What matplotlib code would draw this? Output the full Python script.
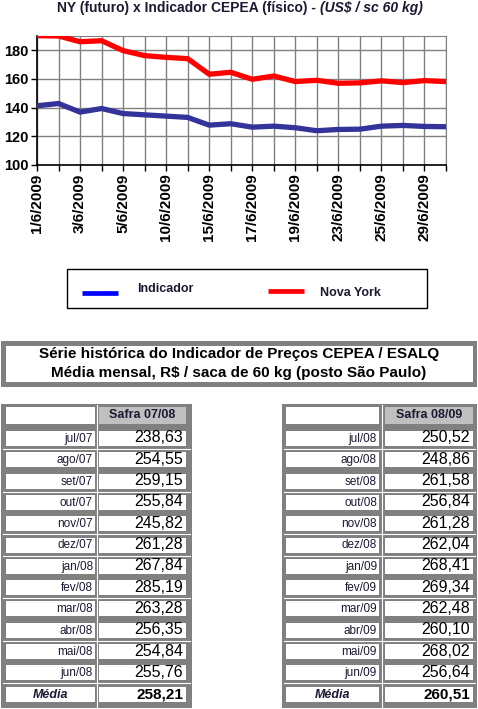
import matplotlib
matplotlib.use("Agg")
import matplotlib.pyplot as plt
from matplotlib.patches import Rectangle

plt.rcParams['font.family'] = ['Liberation Sans', 'DejaVu Sans']

# daily prices, june 2009 (US$ / sc 60 kg)
DATES = ['1/6/2009', '2/6/2009', '3/6/2009', '4/6/2009', '5/6/2009',
         '9/6/2009', '10/6/2009', '12/6/2009', '15/6/2009', '16/6/2009',
         '17/6/2009', '18/6/2009', '19/6/2009', '22/6/2009', '23/6/2009',
         '24/6/2009', '25/6/2009', '26/6/2009', '29/6/2009', '30/6/2009']
INDICADOR = [141.3, 142.9, 136.9, 139.4, 135.9, 135.0, 134.1, 133.2, 127.8, 128.8,
             126.4, 127.1, 126.0, 123.9, 124.8, 125.0, 127.1, 127.6, 126.9, 126.7]
NOVA_YORK = [190.2, 190.0, 186.0, 186.7, 179.8, 176.3, 175.1, 174.2, 163.3, 164.7,
             159.8, 162.1, 158.2, 159.1, 157.0, 157.3, 158.7, 157.5, 158.9, 158.2]

# monthly averages (R$ / saca 60 kg)
MONTHS_0708 = ['jul/07', 'ago/07', 'set/07', 'out/07', 'nov/07', 'dez/07',
               'jan/08', 'fev/08', 'mar/08', 'abr/08', 'mai/08', 'jun/08']
VALUES_0708 = ['238,63', '254,55', '259,15', '255,84', '245,82', '261,28',
               '267,84', '285,19', '263,28', '256,35', '254,84', '255,76']
MEDIA_0708 = '258,21'

MONTHS_0809 = ['jul/08', 'ago/08', 'set/08', 'out/08', 'nov/08', 'dez/08',
               'jan/09', 'fev/09', 'mar/09', 'abr/09', 'mai/09', 'jun/09']
VALUES_0809 = ['250,52', '248,86', '261,58', '256,84', '261,28', '262,04',
               '268,41', '269,34', '262,48', '260,10', '268,02', '256,64']
MEDIA_0809 = '260,51'

W, H = 478, 709
GRAY = '#808080'
fig = plt.figure(figsize=(W / 100, H / 100), dpi=100)


def px_rect(x0, y0, x1, y1):
    return [x0 / W, 1 - y1 / H, (x1 - x0) / W, (y1 - y0) / H]


# ---- line chart ----
ax = fig.add_axes(px_rect(37, 36, 446, 165))
x = list(range(len(DATES)))
ax.plot(x, INDICADOR, color='#333399', lw=3.8, zorder=3)
ax.plot(x, NOVA_YORK, color='#ff0000', lw=3.8, zorder=3)
ax.set_xlim(0, len(DATES) - 1)
ax.set_ylim(100, 190)
ax.set_yticks(range(100, 181, 20))
ax.set_xticks(x)
ax.set_xticklabels([d if i % 2 == 0 else '' for i, d in enumerate(DATES)],
                   rotation=90, fontweight='bold', fontsize=11)
for lab in ax.get_yticklabels():
    lab.set_fontweight('bold')
    lab.set_fontsize(10.5)
ax.grid(True, color=GRAY, lw=1)
ax.tick_params(direction='out', length=4, width=1, pad=2, color='black')
for side in ['top', 'right']:
    ax.spines[side].set_color(GRAY)
for side in ['left', 'bottom']:
    ax.spines[side].set_linewidth(1.2)

# ---- overlay in pixel coords ----
ov = fig.add_axes([0, 0, 1, 1])
ov.set_xlim(0, W)
ov.set_ylim(H, 0)
ov.axis('off')
ov.patch.set_alpha(0)

ov.text(316, 8, 'NY (futuro) x Indicador CEPEA (físico) -', ha='right', va='center',
        fontsize=10, fontweight='bold', color='#1a1a33')
ov.text(320, 8, '(US$ / sc 60 kg)', ha='left', va='center',
        fontsize=10, fontweight='bold', style='italic', color='#1a1a33')

# legend
ov.add_patch(Rectangle((67, 269), 360, 39, fill=False, ec='black', lw=1))
ov.plot([82, 118], [293, 293], color='#0000ff', lw=3.4, solid_capstyle='butt')
ov.plot([268, 304], [291, 291], color='#ff0000', lw=3.4, solid_capstyle='butt')
ov.text(137, 289, 'Indicador', ha='left', va='center', fontsize=9, fontweight='bold', color='#1a1a33')
ov.text(320, 293, 'Nova York', ha='left', va='center', fontsize=9, fontweight='bold', color='#1a1a33')

# table title box
ov.add_patch(Rectangle((1, 341), 476, 46, fc=GRAY, ec='none'))
ov.add_patch(Rectangle((6, 346), 467, 36, fc='white', ec='none'))
ov.text(239, 354, 'Série histórica do Indicador de Preços CEPEA / ESALQ', ha='center', va='center',
        fontsize=11, fontweight='bold')
ov.text(239, 373, 'Média mensal, R$ / saca de 60 kg (posto São Paulo)', ha='center', va='center',
        fontsize=11, fontweight='bold')

ROW0, PITCH, CELL_H = 431, 21.3, 15
SEPARATORS_AFTER = (0, 2, 4, 5, 7, 9, 11)


def draw_table(x0, x1, lab_x, val_x, header, months, values, media):
    ov.add_patch(Rectangle((x0, 404), x1 - x0, 304, fc=GRAY, ec='none'))
    mid = (lab_x[1] + val_x[0]) / 2
    # header
    ov.add_patch(Rectangle((lab_x[0], 407), lab_x[1] - lab_x[0], 17, fc='white', ec='none'))
    ov.add_patch(Rectangle((val_x[0], 407), val_x[1] - val_x[0], 17, fc='#c0c0c0', ec='none'))
    ov.text((val_x[0] + val_x[1]) / 2, 415.5, header, ha='center', va='center',
            fontsize=9, fontweight='bold', color='#1a1a33')
    rows = list(zip(months, values)) + [('Média', media)]
    for i, (m, v) in enumerate(rows):
        top = ROW0 + PITCH * i
        ov.add_patch(Rectangle((lab_x[0], top), lab_x[1] - lab_x[0], CELL_H, fc='white', ec='none'))
        ov.add_patch(Rectangle((val_x[0], top), val_x[1] - val_x[0], CELL_H, fc='white', ec='none'))
        if i < len(months):
            ov.text(lab_x[1] - 2, top + 8, m, ha='right', va='center', fontsize=8.5, color='#1a1a33')
            ov.text(val_x[1] - 3, top + 7, v, ha='right', va='center', fontsize=11.5, color='black')
        else:
            ov.text((lab_x[0] + lab_x[1]) / 2, top + 8.5, m, ha='center', va='center', fontsize=9,
                    fontweight='bold', style='italic', color='#1a1a33')
            ov.text(val_x[1] - 3, top + 7.5, v, ha='right', va='center', fontsize=11,
                    fontweight='bold', color='black')
        if i in SEPARATORS_AFTER:
            ov.plot([x0 + 2, x1 - 2], [top + CELL_H + 3, top + CELL_H + 3], color='white', lw=0.8)
    ov.plot([mid, mid], [405, 707], color='white', lw=0.8)


draw_table(1, 192, (6, 95), (99, 186), 'Safra 07/08', MONTHS_0708, VALUES_0708, MEDIA_0708)
draw_table(282, 477, (286, 379), (385, 473), 'Safra 08/09', MONTHS_0809, VALUES_0809, MEDIA_0809)

fig.savefig('out.png', dpi=100)
